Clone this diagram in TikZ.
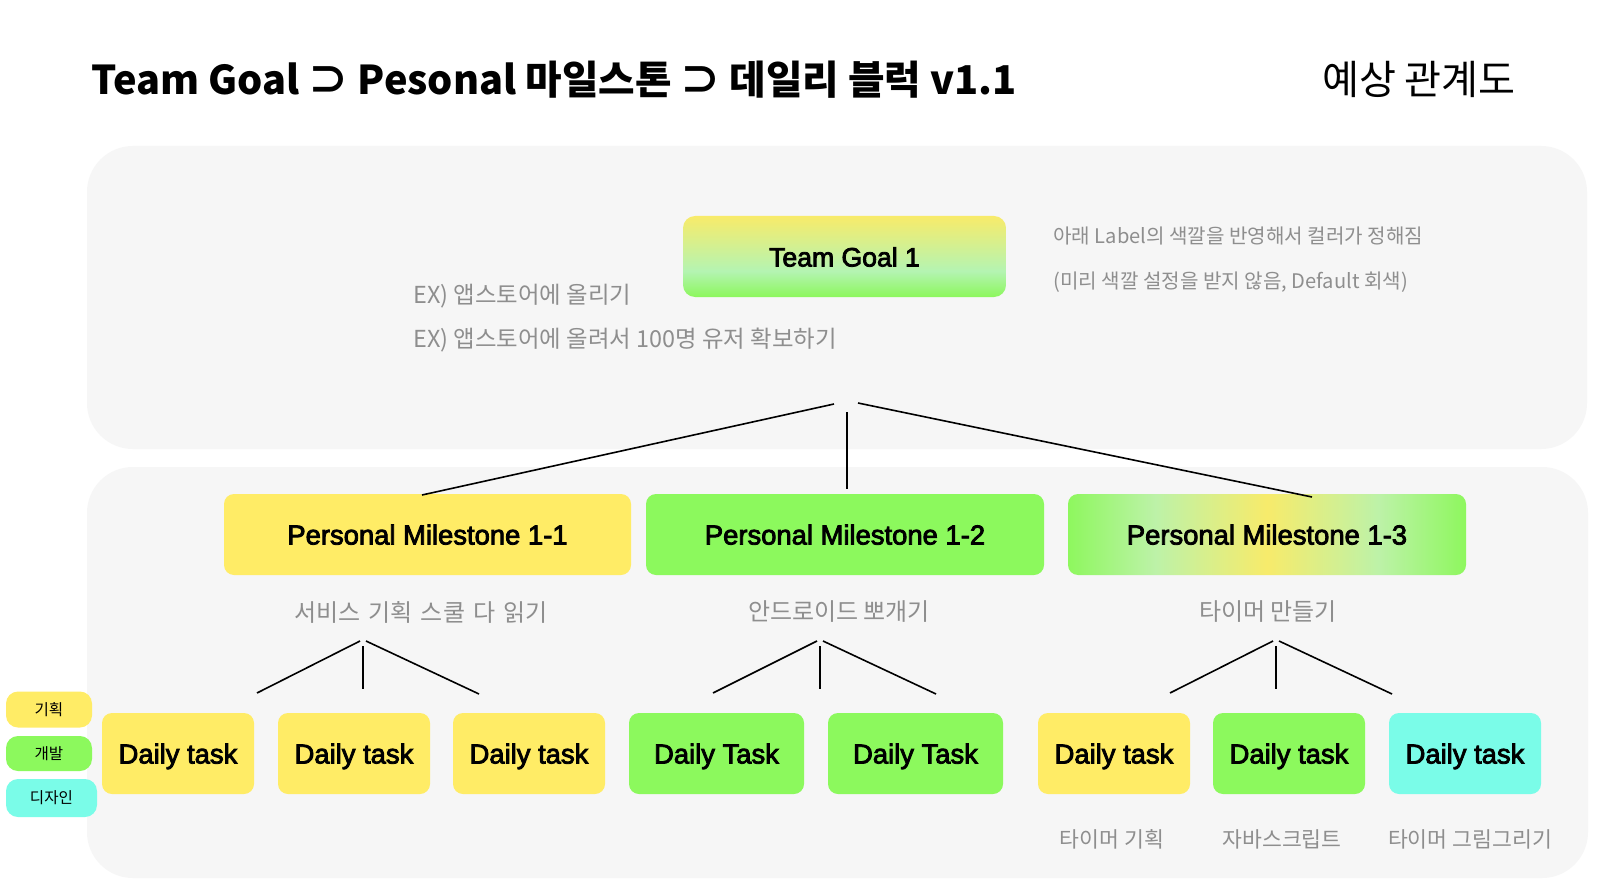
\documentclass[tikz,border=0pt]{standalone}
\usepackage{fontspec}
\setmainfont{Noto Sans CJK KR}
\newfontfamily\hv{Liberation Sans}[FakeBold=3]
\definecolor{panel}{HTML}{F6F6F6}
\definecolor{ylw}{HTML}{FFEC66}
\definecolor{grn}{HTML}{8CF95D}
\definecolor{cyn}{HTML}{7AFCE8}
\definecolor{gtxt}{HTML}{8E8E8E}
\definecolor{tgY}{HTML}{F8EB6A}
\definecolor{tgM}{HTML}{B4F4B2}
\definecolor{tgG}{HTML}{8CF75C}
\definecolor{msG}{HTML}{8EF75E}
\definecolor{msM}{HTML}{BDF2A8}
\definecolor{msY}{HTML}{F7EB6B}
\pgfdeclareverticalshading{tgshade}{100bp}{color(0bp)=(tgG); color(25bp)=(tgG); color(41bp)=(tgM); color(75bp)=(tgY); color(100bp)=(tgY)}
\pgfdeclarehorizontalshading{msshade}{100bp}{color(0bp)=(msG); color(25bp)=(msG); color(36bp)=(msM); color(50bp)=(msY); color(64bp)=(msM); color(75bp)=(msG); color(100bp)=(msG)}
\begin{document}
\begin{tikzpicture}[x=0.5pt,y=-0.5pt,
  box/.style={rounded corners=5pt, inner sep=0pt, text=black, text height=10pt, text depth=0pt, font=\hv\fontsize{13.7}{16}\selectfont},
  daily/.style={box, minimum width=76pt, minimum height=40.5pt},
  dailyw/.style={box, minimum width=87.5pt, minimum height=40.5pt},
  ms/.style={box, minimum width=199pt, minimum height=40.5pt},
  tag/.style={rounded corners=6pt, inner sep=0pt, minimum width=43pt, minimum height=18pt, font=\fontsize{7.8}{9}\selectfont},
  gray/.style={text=gtxt, inner sep=0pt},
  link/.style={line width=0.8pt, black}]
\useasboundingbox (0,0) rectangle (1600,893);
\fill[white] (0,0) rectangle (1600,893);
% panels
\fill[panel, rounded corners=23pt] (87,146) rectangle (1587,449);
\fill[panel, rounded corners=23pt] (87,467) rectangle (1588,878);
% title
\node[inner sep=0pt, anchor=base west, font=\bfseries\fontsize{19.85}{24}\selectfont] (title) at (91,95) {Team Goal ⊃ Pesonal 마일스톤 ⊃ 데일리 블럭 v1.1};
\node[inner sep=0pt, font=\fontsize{20.1}{24}\selectfont] (sub) at (1419,79) {예상 관계도};
% top texts
\node[gray, anchor=west, font=\fontsize{10.05}{12}\selectfont] (note1) at (1053,236) {아래 Label의 색깔을 반영해서 컬러가 정해짐};
\node[gray, anchor=west, font=\fontsize{10.05}{12}\selectfont] (note2) at (1053,282) {(미리 색깔 설정을 받지 않음, Default 회색)};
\node[gray, anchor=west, font=\fontsize{11.7}{14}\selectfont] (ex1) at (413,296) {EX) 앱스토어에 올리기};
\node[gray, anchor=west, font=\fontsize{11.7}{14}\selectfont] (ex2) at (413,340) {EX) 앱스토어에 올려서 100명 유저 확보하기};
% team goal
\node[box, rounded corners=6pt, minimum width=161.5pt, minimum height=40.5pt, shading=tgshade, shade, font=\hv\fontsize{13.3}{15}\selectfont] (tg) at (844.5,256.5) {Team Goal 1};
% milestones
\node[ms, fill=ylw, minimum width=203.5pt] (m1) at (427.5,534.5) {Personal Milestone 1-1};
\node[ms, fill=grn] (m2) at (845,534.5) {Personal Milestone 1-2};
\node[ms, shading=msshade, shade] (m3) at (1267,534.5) {Personal Milestone 1-3};
% connectors from team goal
\coordinate (tA) at (834,404); \coordinate (tB) at (858,403); \coordinate (tC) at (847,412);
\coordinate (e1) at (422,495); \coordinate (e3) at (1312,497); \coordinate (e2) at (847,489);
\draw[link] (tA) -- (e1);
\draw[link] (tB) -- (e3);
\draw[link] (tC) -- (e2);
% milestone sub labels
\node[gray, font=\fontsize{12}{14}\selectfont] (s1) at (421,612) {서비스\hspace{0.34em}기획\hspace{0.34em}스쿨\hspace{0.34em}다\hspace{0.34em}읽기};
\node[gray, font=\fontsize{12}{14}\selectfont] (s2) at (839,612) {안드로이드 뽀개기};
\node[gray, font=\fontsize{12}{14}\selectfont] (s3) at (1268,612) {타이머 만들기};
% subtree connectors
\foreach \n/\ax/\lx/\rx in {a/360/257/479, b/817/713/936, c/1273/1170/1392}{
  \coordinate (\n L0) at (\ax,641); \coordinate (\n L1) at (\lx,693);
  \coordinate (\n V0) at (\ax+3,646); \coordinate (\n V1) at (\ax+3,689);
  \coordinate (\n R0) at (\ax+6,641); \coordinate (\n R1) at (\rx,694);
  \draw[link] (\n L0) -- (\n L1);
  \draw[link] (\n V0) -- (\n V1);
  \draw[link] (\n R0) -- (\n R1);
}
% daily tasks
\node[daily, fill=ylw] (d1) at (178,753.5) {Daily task};
\node[daily, fill=ylw] (d2) at (354,753.5) {Daily task};
\node[daily, fill=ylw] (d3) at (529,753.5) {Daily task};
\node[dailyw, fill=grn] (d4) at (716.5,753.5) {Daily Task};
\node[dailyw, fill=grn] (d5) at (915.5,753.5) {Daily Task};
\node[daily, fill=ylw] (d6) at (1114,753.5) {Daily task};
\node[daily, fill=grn] (d7) at (1289,753.5) {Daily task};
\node[daily, fill=cyn] (d8) at (1465,753.5) {Daily task};
% task labels
\node[gray, font=\fontsize{10.8}{13}\selectfont] (b6) at (1112,839) {타이머 기획};
\node[gray, font=\fontsize{10.8}{13}\selectfont] (b7) at (1282,839) {자바스크립트};
\node[gray, font=\fontsize{10.8}{13}\selectfont] (b8) at (1470,839) {타이머 그림그리기};
% legend tags
\node[tag, fill=ylw] (t1) at (49,709.5) {기획};
\node[tag, fill=grn, minimum height=17.5pt] (t2) at (49,753.5) {개발};
\node[tag, fill=cyn, minimum width=45.5pt, minimum height=19pt] (t3) at (51.5,798) {디자인};
\end{tikzpicture}
\end{document}
